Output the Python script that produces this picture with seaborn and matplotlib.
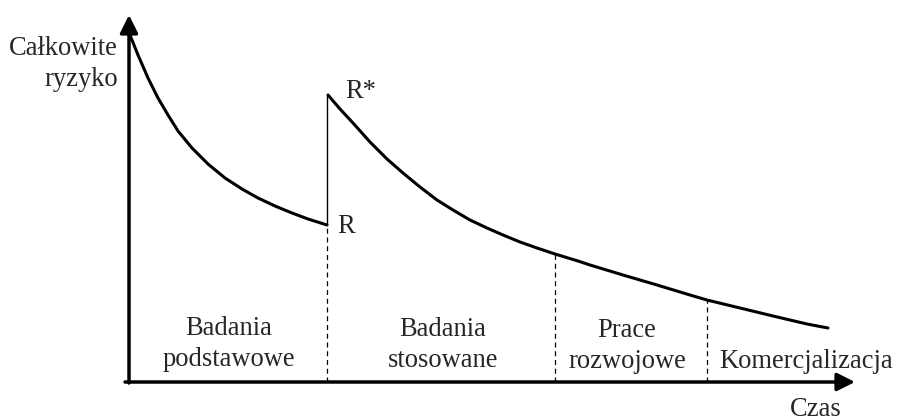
import matplotlib
matplotlib.use("Agg")
import matplotlib.pyplot as plt
import seaborn as sns

# risk curve before the jump (basic research)
t_basic = [0.01, 0.09, 0.19, 0.29, 0.39, 0.49, 0.63, 0.79, 0.96, 1.13, 1.29, 1.46, 1.63, 1.79, 1.98]
r_basic = [3.47, 3.27, 3.04, 2.84, 2.67, 2.51, 2.34, 2.18, 2.04, 1.93, 1.84, 1.76, 1.69, 1.63, 1.57]

# risk curve after the jump R -> R*
t_rest = [1.99, 2.11, 2.24, 2.41, 2.58, 2.74, 2.91, 3.08, 3.24, 3.41, 3.58, 3.74, 3.91,
          4.08, 4.26, 4.49, 4.61, 4.94, 5.28, 5.61, 5.78, 6.11, 6.44, 6.78, 6.99]
r_rest = [2.87, 2.73, 2.59, 2.40, 2.23, 2.09, 1.95, 1.82, 1.72, 1.62, 1.54, 1.47, 1.40,
          1.34, 1.28, 1.21, 1.17, 1.07, 0.97, 0.87, 0.82, 0.74, 0.66, 0.58, 0.54]

# phase boundaries and risk level where the dashed lines stop
bounds_t = [1.98, 4.26, 5.78]
bounds_r = [1.57, 1.28, 0.82]

phases = ["Badania\npodstawowe", "Badania\nstosowane", "Prace\nrozwojowe", "Komercjalizacja"]
phase_x = [1.00, 3.14, 4.98, 6.77]
phase_y = [0.38, 0.37, 0.36, 0.20]

sns.set_theme(style="white")
plt.rcParams['font.family'] = ['Liberation Serif', 'DejaVu Serif']

fig = plt.figure(figsize=(8.97, 4.18), dpi=100)
ax = fig.add_axes([0, 0, 1, 1])
ax.set_xlim(-1.29, 7.68)
ax.set_ylim(-0.36, 3.82)
ax.axis('off')

sns.lineplot(x=t_basic, y=r_basic, sort=False, color='black', lw=2.2, ax=ax)
sns.lineplot(x=t_rest, y=r_rest, sort=False, color='black', lw=2.2, ax=ax)
# jump from R to R*
ax.plot([bounds_t[0], bounds_t[0]], [r_basic[-1], r_rest[0]], color='black', lw=1.0)

for bt, br in zip(bounds_t, bounds_r):
    ax.plot([bt, bt], [0, br], color='black', lw=0.9, ls=(0, (4, 3)))

# axes with arrows
arr = dict(arrowstyle='-|>,head_length=0.4,head_width=0.2', mutation_scale=27,
           lw=2.5, color='black', shrinkA=0, shrinkB=0)
ax.annotate('', xy=(7.26, 0), xytext=(-0.04, 0), arrowprops=arr)
ax.annotate('', xy=(0, 3.67), xytext=(0, -0.01), arrowprops=arr)

fs = 19.1
for lab, px, py in zip(phases, phase_x, phase_y):
    ax.text(px, py, lab, ha='center', va='center', fontsize=fs, linespacing=1.35)

ax.text(-0.11, 3.18, "Całkowite\nryzyko", ha='right', va='center', fontsize=fs,
        linespacing=1.35, multialignment='right')
ax.text(2.16, 2.90, "R*", ha='left', va='center', fontsize=fs)
ax.text(2.08, 1.55, "R", ha='left', va='center', fontsize=fs)
ax.text(6.87, -0.345, "Czas", ha='center', va='baseline', fontsize=fs)

fig.savefig("out.png", dpi=100)
